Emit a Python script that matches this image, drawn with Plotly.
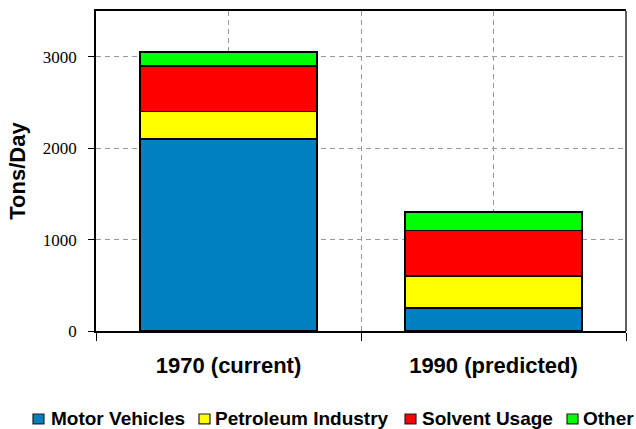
import plotly.graph_objects as go

categories = ["1970 (current)", "1990 (predicted)"]
series_names = ["Motor Vehicles", "Petroleum Industry", "Solvent Usage", "Other"]
motor_vehicles = [2100, 250]
petroleum_industry = [300, 350]
solvent_usage = [500, 500]
other = [150, 200]
series_values = [motor_vehicles, petroleum_industry, solvent_usage, other]
colors = ["#0080C0", "#FFFF00", "#FF0000", "#00FF00"]
y_ticks = [0, 1000, 2000, 3000]

W, H = 636, 429
ML, MR, MT, MB = 96, 10, 9, 98
PW, PH = W - ML - MR, H - MT - MB

xpos = list(range(len(categories)))

fig = go.Figure()
for name, vals, col in zip(series_names, series_values, colors):
    fig.add_trace(go.Bar(
        x=xpos, y=vals, name=name, width=0.667,
        marker=dict(color=col, line=dict(color="black", width=1.5)),
        showlegend=False,
    ))

# legend drawn as shapes + text (style positions in pixels)
leg_sq_x = [33, 199, 405, 567]
leg_tx_x = [51, 215, 422, 583]
leg_y = 419.5
shapes = []
annotations = []
def px2x(p):
    return (p - ML) / PW
def py2y(p):
    return (H - MB - p) / PH
for name, col, sx, tx in zip(series_names, colors, leg_sq_x, leg_tx_x):
    shapes.append(dict(type="rect", xref="paper", yref="paper",
                       x0=px2x(sx), x1=px2x(sx + 11), y0=py2y(leg_y + 5), y1=py2y(leg_y - 5),
                       fillcolor=col, line=dict(color="#202020", width=1.2)))
    annotations.append(dict(xref="paper", yref="paper", x=px2x(tx - 2), y=py2y(leg_y),
                            xanchor="left", yanchor="middle", showarrow=False,
                            text="<b>%s</b>" % name,
                            font=dict(family="Liberation Sans", size=19, color="black")))
# right frame border
shapes.append(dict(type="line", xref="paper", yref="paper", x0=1, x1=1, y0=0, y1=1,
                   line=dict(color="#606060", width=2)))

grid_dash = "5px,4px"
fig.update_layout(
    width=W, height=H,
    margin=dict(l=ML, r=MR, t=MT, b=MB),
    barmode="stack",
    plot_bgcolor="white", paper_bgcolor="white",
    showlegend=False,
    shapes=shapes, annotations=annotations,
    font=dict(family="Liberation Sans", color="black"),
)
fig.update_xaxes(
    range=[-0.5, 1.5],
    tickmode="array", tickvals=xpos, ticktext=["<b>%s</b>" % c for c in categories],
    tickfont=dict(family="Liberation Sans", size=22, color="black"),
    ticks="", ticklabelstandoff=14,
    showgrid=True, gridcolor="#999999", griddash=grid_dash, gridwidth=1,
    showline=True, linecolor="black", linewidth=1.5, mirror=True,
    zeroline=False,
    minor=dict(tickmode="array", tickvals=[-0.5, 0.5, 1.5], ticks="outside", ticklen=8,
               tickcolor="black", tickwidth=1, showgrid=True, gridcolor="#999999",
               griddash=grid_dash, gridwidth=1),
)
fig.update_yaxes(
    range=[0, 3500],
    tickmode="array", tickvals=y_ticks, ticktext=[str(v) for v in y_ticks],
    tickfont=dict(family="Liberation Serif", size=17, color="black"),
    ticks="outside", ticklen=6, tickcolor="black", tickwidth=1, ticklabelstandoff=8,
    showgrid=True, gridcolor="#999999", griddash=grid_dash, gridwidth=1,
    showline=True, linecolor="black", linewidth=1.5,
    zeroline=False,
    title=dict(text="<b>Tons/Day</b>", standoff=11,
               font=dict(family="Liberation Sans", size=22, color="black")),
)

fig.write_html("out.html", config={"displayModeBar": False},
               post_script="document.body.style.margin='0';")
